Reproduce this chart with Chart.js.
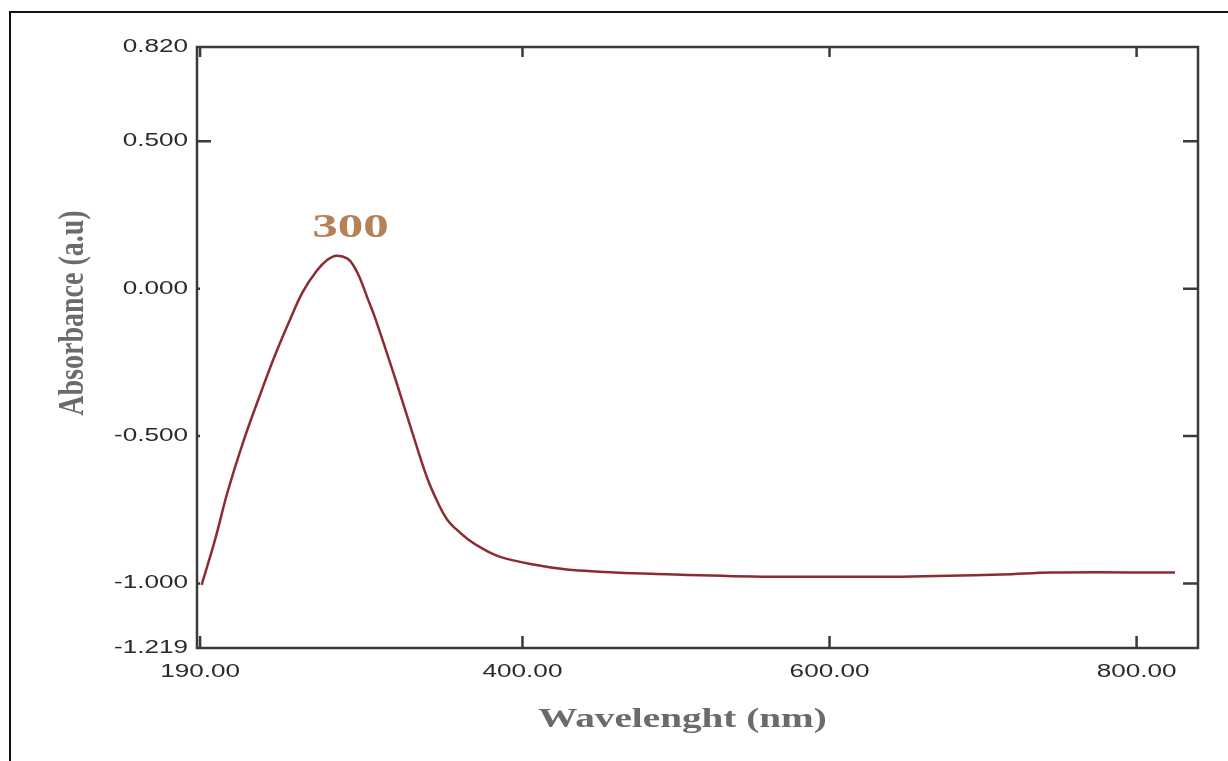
<!DOCTYPE html>
<html>
<head>
<meta charset="utf-8">
<script src="https://cdn.jsdelivr.net/npm/chart.js@4/dist/chart.umd.min.js"></script>
<style>
  html, body { margin: 0; padding: 0; background: #fff; }
  canvas { display: block; }
</style>
</head>
<body>
<canvas id="spectrum" width="1228" height="761"></canvas>
<script>
// UV-Vis spectrum, values
const wavelength = [191, 200, 208, 219, 230, 239, 249, 257, 266, 273, 279, 286, 290, 294, 299, 304, 317, 328, 338, 346, 351, 356, 364, 374, 385, 407, 429, 450, 484, 556, 601, 647, 712, 745, 825]
const absorbance = [-1.005, -0.847, -0.688, -0.506, -0.347, -0.223, -0.100, -0.010, 0.061, 0.098, 0.112, 0.102, 0.078, 0.037, -0.031, -0.099, -0.303, -0.484, -0.643, -0.738, -0.784, -0.812, -0.848, -0.882, -0.909, -0.936, -0.953, -0.960, -0.967, -0.977, -0.977, -0.977, -0.970, -0.963, -0.963]

const xTicks = [190, 400, 600, 800]
const yTicks = [-1.219, -1.0, -0.5, 0, 0.5, 0.82]

const peakLabel = '300'
const peakLabelAt = [288, 0.177]

const xTitle = 'Wavelenght (nm)'
const yTitle = 'Absorbance (a.u)'

// the scanned figure is stretched sideways, so text gets a horizontal scale
function stretchedText(ctx, text, x, y, sx, sy) {
  ctx.save()
  ctx.translate(x, y)
  ctx.scale(sx, sy)
  ctx.fillText(text, 0, 0)
  ctx.restore()
}

const frame = {
  id: 'frame',
  afterDraw(chart) {
    const { ctx, chartArea: a, scales: { x, y } } = chart
    ctx.save()

    // outer picture border (left and top only)
    ctx.strokeStyle = '#111'
    ctx.lineWidth = 2
    ctx.beginPath()
    ctx.moveTo(10, chart.height)
    ctx.lineTo(10, 12)
    ctx.lineTo(chart.width, 12)
    ctx.stroke()

    // plot box
    ctx.strokeStyle = '#3a3a3a'
    ctx.lineWidth = 2.5
    ctx.strokeRect(a.left, a.top, a.right - a.left, a.bottom - a.top)

    // inward tick marks
    ctx.beginPath()
    y.ticks.slice(1, -1).forEach(t => {
      const py = y.getPixelForValue(t.value)
      ctx.moveTo(a.left, py)
      ctx.lineTo(a.left + (t.value === 0.5 ? 14 : 3), py)
      ctx.moveTo(a.right, py)
      ctx.lineTo(a.right - 15, py)
    })
    x.ticks.forEach(t => {
      const px = x.getPixelForValue(t.value)
      ctx.moveTo(px, a.bottom)
      ctx.lineTo(px, a.bottom - 12)
      ctx.moveTo(px, a.top)
      ctx.lineTo(px, a.top + 10)
    })
    ctx.stroke()

    // tick labels
    ctx.fillStyle = '#2a2a2a'
    ctx.font = '18px "Liberation Sans"'
    ctx.textBaseline = 'middle'
    ctx.textAlign = 'right'
    y.ticks.forEach(t => {
      stretchedText(ctx, t.label ?? t.value.toFixed(3), a.left - 9, y.getPixelForValue(t.value), 1.45, 1)
    })
    ctx.textBaseline = 'alphabetic'
    ctx.textAlign = 'center'
    x.ticks.forEach(t => {
      stretchedText(ctx, t.label ?? t.value.toFixed(2), x.getPixelForValue(t.value), a.bottom + 29, 1.45, 1)
    })

    // axis titles
    ctx.fillStyle = '#6b6b6b'
    ctx.font = 'bold 28px "Liberation Serif"'
    stretchedText(ctx, xTitle, (a.left + a.right) / 2 - 15, 727, 1.4, 1)

    ctx.save()
    ctx.translate(83, 313)
    ctx.rotate(-Math.PI / 2)
    ctx.scale(1, 1.3)
    ctx.fillText(yTitle, 0, 0)
    ctx.restore()

    // peak label
    ctx.fillStyle = '#b3825a'
    ctx.font = 'bold 34px "Liberation Serif"'
    stretchedText(ctx, peakLabel, x.getPixelForValue(peakLabelAt[0]), y.getPixelForValue(peakLabelAt[1]), 1.5, 1)

    ctx.restore()
  }
}

new Chart(document.querySelector('#spectrum'), {
  type: 'line',
  data: {
    datasets: [{
      data: wavelength.map((w, i) => ({ x: w, y: absorbance[i] })),
      borderColor: '#8c2b30',
      borderWidth: 2.5,
      pointRadius: 0,
      fill: false,
      tension: 0.4
    }]
  },
  options: {
    responsive: false,
    animation: false,
    layout: { padding: { top: 47, right: 30, left: 0, bottom: 0 } },
    plugins: {
      legend: { display: false },
      tooltip: { enabled: false }
    },
    scales: {
      x: {
        type: 'linear',
        min: 188,
        max: 840,
        afterBuildTicks: s => { s.ticks = xTicks.map(v => ({ value: v })) },
        afterFit: s => { s.height = 113 },
        grid: { display: false },
        border: { display: false },
        ticks: { display: false, autoSkip: false, callback: v => v.toFixed(2) }
      },
      y: {
        type: 'linear',
        min: -1.219,
        max: 0.82,
        afterBuildTicks: s => { s.ticks = yTicks.map(v => ({ value: v })) },
        afterFit: s => { s.width = 197 },
        grid: { display: false },
        border: { display: false },
        ticks: { display: false, autoSkip: false, callback: v => v.toFixed(3) }
      }
    }
  },
  plugins: [frame]
})
</script>
</body>
</html>
